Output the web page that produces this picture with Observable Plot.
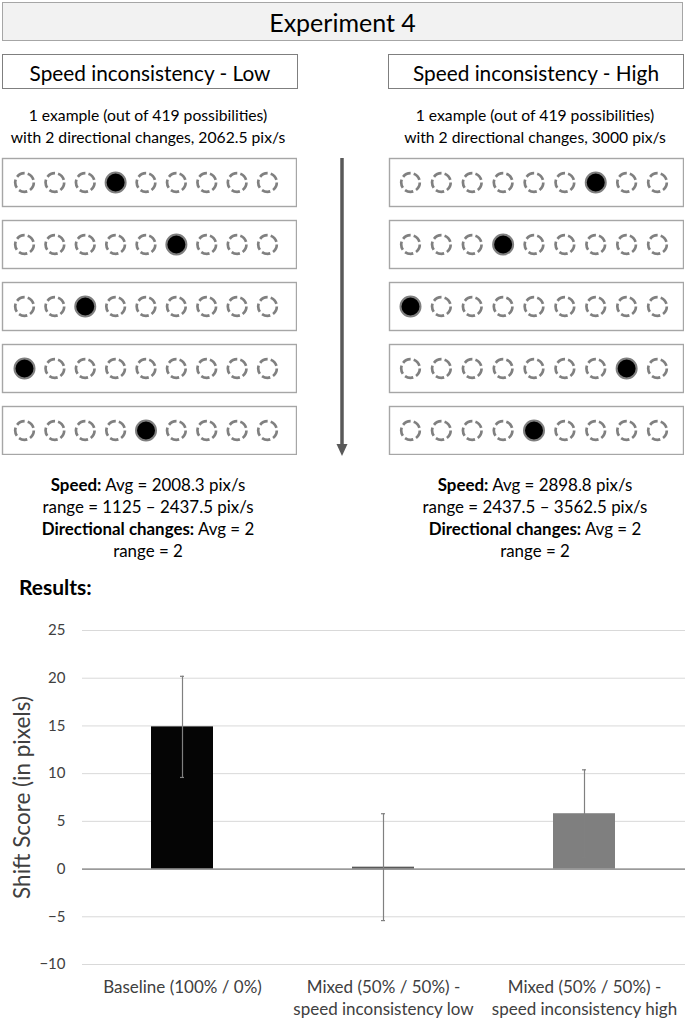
<!DOCTYPE html>
<html><head><meta charset="utf-8">
<script src="https://cdn.jsdelivr.net/npm/d3@7"></script>
<script src="https://cdn.jsdelivr.net/npm/@observablehq/plot@0.6"></script>
<style>
body{margin:0;background:#fff;}
#root{position:relative;width:685px;height:1022px;overflow:hidden;font-family:Lato,"Noto Sans",sans-serif;color:#000;}
.box{position:absolute;box-sizing:border-box;}
.t{position:absolute;text-align:center;white-space:nowrap;}
</style></head><body><div id="root"></div>
<script>
// ---------- data ----------
const title = "Experiment 4";
const conditions = ["Speed inconsistency - Low", "Speed inconsistency - High"];
const exampleLine1 = ["1 example (out of 419 possibilities)", "1 example (out of 419 possibilities)"];
const exampleLine2 = ["with 2 directional changes, 2062.5 pix/s", "with 2 directional changes, 3000 pix/s"];
const speedAvg = ["2008.3", "2898.8"];
const speedRange = ["1125 \u2013 2437.5", "2437.5 \u2013 3562.5"];
const dirAvg = ["2", "2"];
const dirRange = ["2", "2"];
const positions = [0, 1, 2, 3, 4, 5, 6, 7, 8];
const rowsIdx = [0, 1, 2, 3, 4];
const filledLow = [3, 5, 2, 0, 4];
const filledHigh = [6, 3, 0, 7, 4];
const resultsLabel = "Results:";
const categories = ["Baseline (100% / 0%)", "Mixed (50% / 50%) -\nspeed inconsistency low", "Mixed (50% / 50%) -\nspeed inconsistency high"];
const means = [14.9, 0.2, 5.8];
const errors = [5.3, 5.6, 4.6];
const yTicks = [-10, -5, 0, 5, 10, 15, 20, 25];
const yLabel = "Shift Score (in pixels)";
const barColors = ["#050505", "#595959", "#7f7f7f"];

// ---------- layout helpers ----------
const root = document.getElementById("root");
function box(l, t, w, h, style) {
  const d = document.createElement("div");
  d.className = "box";
  Object.assign(d.style, {left: l + "px", top: t + "px", width: w + "px", height: h + "px"}, style || {});
  root.appendChild(d); return d;
}
function text(html, cx, cy, size, extra) {
  const d = document.createElement("div");
  d.className = "t";
  const lh = Math.round(size * 1.4);
  Object.assign(d.style, {left: (cx - 200) + "px", width: "400px", top: (cy - lh / 2) + "px",
    lineHeight: lh + "px", fontSize: size + "px"}, extra || {});
  d.innerHTML = html;
  root.appendChild(d); return d;
}
const FONT = 'Lato, "Noto Sans", sans-serif';

// title
box(2, 2, 681, 39, {background: "#f2f2f2", border: "1.5px solid #a6a6a6"});
text(title, 342.5, 22, 25);

// condition headers and descriptions
const colCenter = [148, 535];
const colBoxLeft = [2, 388];
colBoxLeft.forEach((l, k) => {
  box(l, 54, 296, 35, {border: "1.5px solid #7f7f7f", background: "#fff"});
  text(conditions[k], l + 148, 72, 20.8);
  text(exampleLine1[k], colCenter[k], 115, 15.7);
  text(exampleLine2[k], colCenter[k], 137, 15.7);
  text(`<b>Speed:</b> Avg = ${speedAvg[k]} pix/s`, colCenter[k], 485, 16.9);
  text(`range = ${speedRange[k]} pix/s`, colCenter[k], 507, 16.9);
  text(`<b>Directional changes:</b> Avg = ${dirAvg[k]}`, colCenter[k], 529, 16.9);
  text(`range = ${dirRange[k]}`, colCenter[k], 551, 16.9);
});
text(`<b>${resultsLabel}</b>`, 0, 586, 21, {textAlign: "left", left: "19px"});

// ---------- stimulus rows (Plot, faceted by row) ----------
function rowsPlot(filled, insetL, insetR) {
  const open = [], full = [];
  filled.forEach((f, r) => positions.forEach(i => (i === f ? full : open).push({row: rowsIdx[r], pos: i})));
  return Plot.plot({
    width: 296, height: 298, margin: 1,
    x: {domain: [positions[0], positions[positions.length - 1]], axis: null, insetLeft: insetL, insetRight: insetR},
    fy: {domain: rowsIdx, axis: null, paddingInner: 14 / 62, paddingOuter: 0},
    marks: [
      Plot.frame({stroke: "#a6a6a6", strokeWidth: 1.4}),
      Plot.dot(open, {x: "pos", fy: "row", r: 9.3, stroke: "#808080", strokeWidth: 2.7, strokeDasharray: "8.6,3.1"}),
      Plot.dot(full, {x: "pos", fy: "row", r: 10, fill: "#000", stroke: "#7f7f7f", strokeWidth: 2})
    ]
  });
}
const pL = rowsPlot(filledLow, 22, 29);
Object.assign(pL.style, {position: "absolute", left: "1px", top: "157px"});
root.appendChild(pL);
const pR = rowsPlot(filledHigh, 21, 26);
Object.assign(pR.style, {position: "absolute", left: "388px", top: "157px"});
root.appendChild(pR);

// arrow
const ns = "http://www.w3.org/2000/svg";
const arr = document.createElementNS(ns, "svg");
arr.setAttribute("width", 14); arr.setAttribute("height", 302);
Object.assign(arr.style, {position: "absolute", left: "335px", top: "157px"});
arr.innerHTML = '<line x1="7" y1="1" x2="7" y2="288" stroke="#595959" stroke-width="3.5"/><path d="M1.5,287 L12.5,287 L7,299 Z" fill="#595959"/>';
root.appendChild(arr);

// ---------- bar chart ----------
const bars = categories.map((c, i) => ({cat: c, mean: means[i], lo: means[i] - errors[i], hi: means[i] + errors[i]}));
const chart = Plot.plot({
  width: 685, height: 422,
  marginLeft: 82, marginRight: 0, marginTop: 30, marginBottom: 58,
  style: {fontFamily: FONT, fontSize: "15px", color: "#404040", background: "transparent", overflow: "visible"},
  x: {domain: categories, paddingInner: 0.69, paddingOuter: 0.345, label: null},
  y: {domain: [yTicks[0], yTicks[yTicks.length - 1]], label: null},
  color: {domain: categories, range: barColors},
  marks: [
    Plot.gridY(yTicks, {stroke: "#d9d9d9", strokeOpacity: 1, strokeWidth: 1}),
    Plot.barY(bars, {x: "cat", y: "mean", fill: "cat"}),
    Plot.ruleY([0], {stroke: "#7f7f7f", strokeWidth: 1.2}),
    Plot.ruleX(bars, {x: "cat", y1: "lo", y2: "hi", stroke: "#808080", strokeWidth: 1.2}),
    Plot.tickY(bars, {x: "cat", y: "lo", stroke: "#808080", strokeWidth: 1.2, insetLeft: 29, insetRight: 29}),
    Plot.tickY(bars, {x: "cat", y: "hi", stroke: "#808080", strokeWidth: 1.2, insetLeft: 29, insetRight: 29}),
    Plot.axisY({ticks: yTicks, tickSize: 0, tickPadding: 17, fontSize: 15, label: null, fill: "#404040"}),
    Plot.axisX({tickSize: 0, tickPadding: 13, fontSize: 17, label: null, lineHeight: 1.3, fill: "#404040"}),
    Plot.text([yLabel], {frameAnchor: "left", textAnchor: "middle", rotate: -90, dx: -60, fontSize: 22.5, fill: "#404040"})
  ]
});
Object.assign(chart.style, {position: "absolute", left: "0px", top: "600px"});
root.appendChild(chart);
</script></body></html>
